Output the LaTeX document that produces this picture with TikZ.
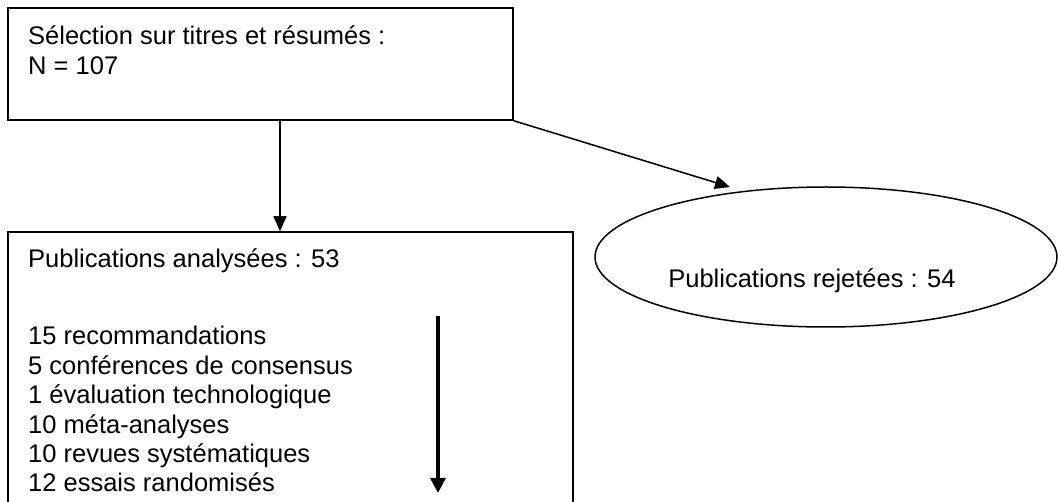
\documentclass[tikz,border=0pt]{standalone}
\usepackage{fontspec}
\setmainfont{Liberation Sans}
\usetikzlibrary{arrows.meta,shapes.geometric}
\begin{document}
\begin{tikzpicture}[x=1pt,y=1pt,
  box/.style={draw,line width=1.5pt,rectangle,inner sep=0pt},
  oval/.style={draw,line width=1.5pt,ellipse,inner sep=0pt},
  txt/.style={anchor=base west,inner sep=0pt,font=\fontsize{25.5}{29}\selectfont},
  ctxt/.style={anchor=base,inner sep=0pt,font=\fontsize{25.5}{29}\selectfont},
  arr/.style={line width=1.5pt,-{Triangle[length=15pt,width=13pt]}},
  thickarr/.style={line width=3.5pt,-{Triangle[length=15pt,width=15pt]}}]
\useasboundingbox (0,0) rectangle (1058,-502);
\clip (0,0) rectangle (1058,-502);
\fill[white] (0,0) rectangle (1058,-502);
% boxes
\node[box,minimum width=505pt,minimum height=112pt] (sel) at (260.5,-64) {};
\node[box,minimum width=565pt,minimum height=283pt] (ana) at (290.5,-373.5) {};
\node[oval,minimum width=462pt,minimum height=140pt] (rej) at (826,-257) {};
% texts
\node[txt] (t1) at (28,-45) {Sélection sur titres et résumés :};
\node[txt] (t2) at (28,-75) {N = 107};
\node[txt] (b0) at (28,-268) {Publications analysées : 53};
\node[txt] (b1) at (28,-345) {15 recommandations};
\node[txt] (b2) at (28,-374.4) {5 conférences de consensus};
\node[txt] (b3) at (28,-403.8) {1 évaluation technologique};
\node[txt] (b4) at (28,-433.2) {10 méta-analyses};
\node[txt] (b5) at (28,-462.6) {10 revues systématiques};
\node[txt] (b6) at (28,-492) {12 essais randomisés};
\node[ctxt] (r1) at (812,-288) {Publications rejetées : 54};
% connectors
\coordinate (vx) at (280,0);
\coordinate (rejin) at (730,-187);
\draw[arr] (vx |- sel.south) -- (vx |- ana.north);
\draw[arr] (sel.south east) -- (rejin);
\coordinate (hs) at (438,-316);
\coordinate (he) at (438,-493);
\draw[thickarr] (hs) -- (he);
\end{tikzpicture}
\end{document}
